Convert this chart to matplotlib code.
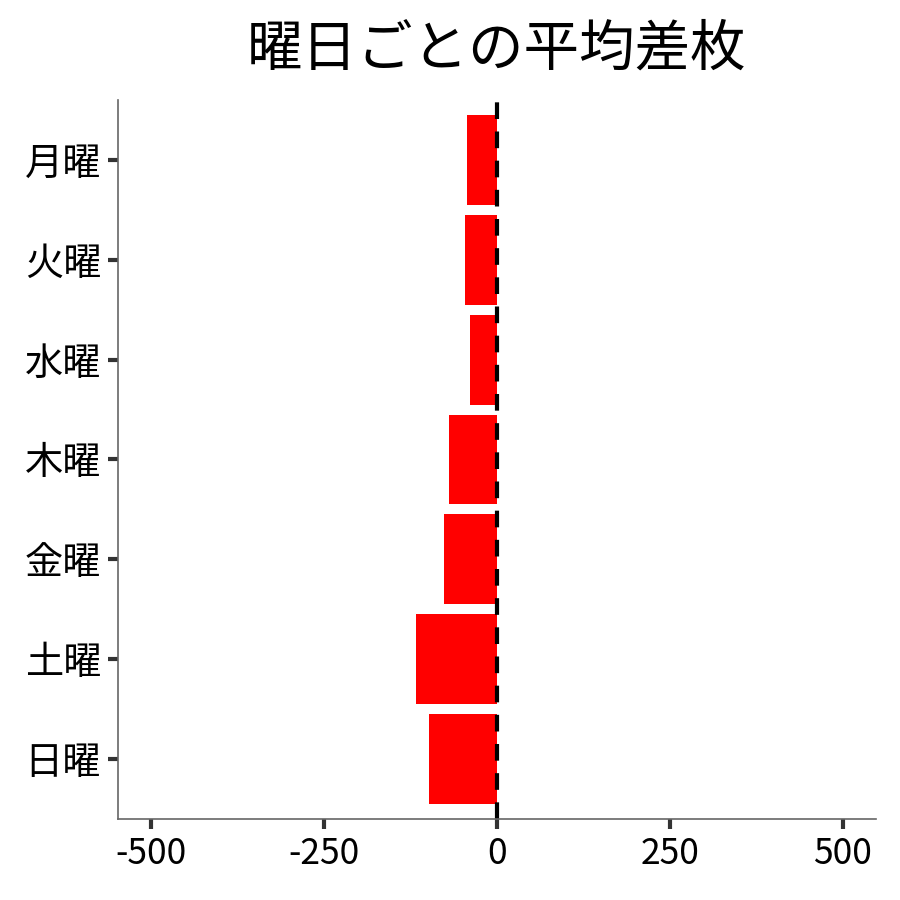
import matplotlib
matplotlib.use("Agg")
import matplotlib.pyplot as plt

plt.rcParams['font.family'] = ['Noto Sans CJK JP', 'DejaVu Sans']

# Data
days = ["月曜", "火曜", "水曜", "木曜", "金曜", "土曜", "日曜"]
avg_diff = [-43, -46, -39, -69, -77, -117, -98]
xticks = [-500, -250, 0, 250, 500]

fig = plt.figure(figsize=(9, 9), dpi=100)
ax = fig.add_axes([0.131, 0.09, 0.842, 0.799])

ypos = list(range(len(days)))
ax.barh(ypos, avg_diff, height=0.9, color="#ff0000")
ax.axvline(0, color="black", linestyle=(0, (4, 3)), linewidth=3)

ax.set_yticks(ypos)
ax.set_yticklabels(days)
ax.set_ylim(len(days) - 0.4, -0.6)
ax.set_xlim(-548, 548)
ax.set_xticks(xticks)
ax.set_xticklabels([str(t) for t in xticks])

for side in ["top", "right"]:
    ax.spines[side].set_visible(False)
for side in ["left", "bottom"]:
    ax.spines[side].set_color("#666666")
    ax.spines[side].set_linewidth(1.2)

ax.tick_params(axis="both", length=7, width=3, color="#333333",
               labelcolor="black", pad=5)
ax.tick_params(axis="x", labelsize=25.5)
ax.tick_params(axis="y", labelsize=27.5)

fig.suptitle("曜日ごとの平均差枚", x=0.552, y=0.977, fontsize=40)

fig.savefig("out.png", dpi=100)
